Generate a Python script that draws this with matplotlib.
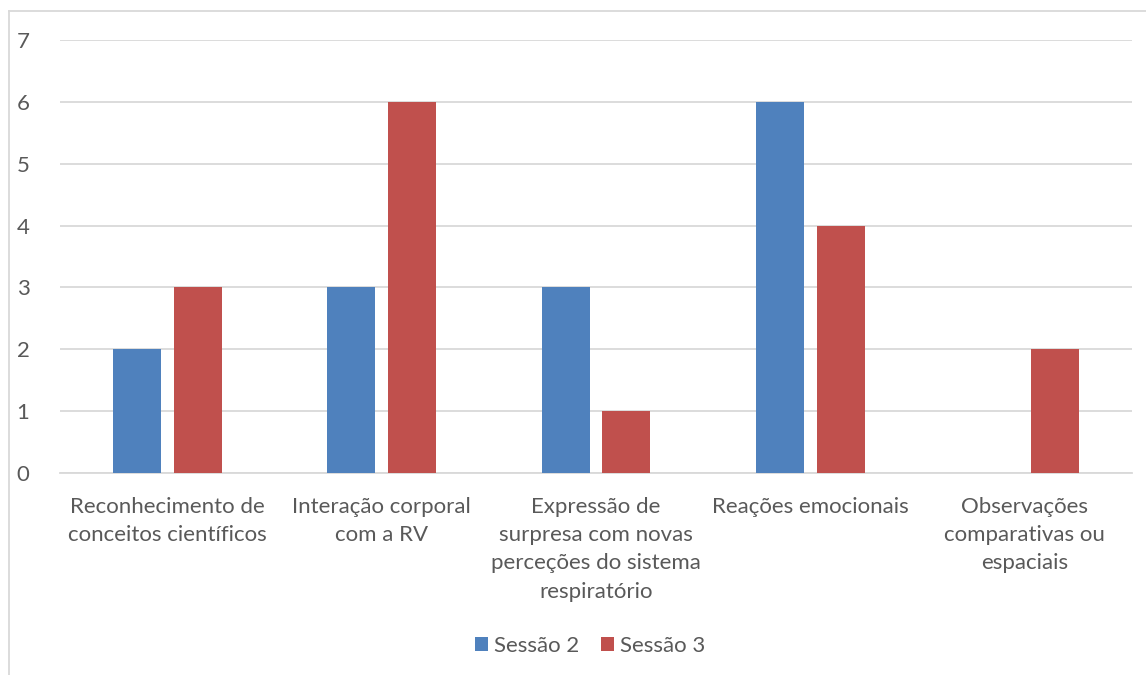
import matplotlib
matplotlib.use("Agg")
import matplotlib.pyplot as plt
import numpy as np
from matplotlib.lines import Line2D

categories = [
    "Reconhecimento de\nconceitos científicos",
    "Interação corporal\ncom a RV",
    "Expressão de\nsurpresa com novas\nperceções do sistema\nrespiratório",
    "Reações emocionais",
    "Observações\ncomparativas ou\nespaciais",
]
series_names = ["Sessão 2", "Sessão 3"]
sessao2 = [2, 3, 3, 6, 0]
sessao3 = [3, 6, 1, 4, 2]
y_ticks = [0, 1, 2, 3, 4, 5, 6, 7]

BLUE = "#4F81BD"
RED = "#C0504D"
TEXT = "#595959"
GRID = "#D9D9D9"
FS = 16

plt.rcParams["font.family"] = ["Lato", "DejaVu Sans"]

W, H = 1146, 675
fig = plt.figure(figsize=(W / 100, H / 100), dpi=100)
ax = fig.add_axes([60 / W, 1 - 473 / H, (1132 - 60) / W, (473 - 40) / H])

x = np.arange(len(categories))
bw = 0.224
gap = 0.06
off = (bw + gap) / 2
ax.bar(x - off, sessao2, width=bw, color=BLUE, label=series_names[0], zorder=3)
ax.bar(x + off, sessao3, width=bw, color=RED, label=series_names[1], zorder=3)

ax.set_xlim(-0.5, len(categories) - 0.5)
ax.set_ylim(0, 7)
ax.set_yticks(y_ticks)
ax.set_yticklabels([str(v) for v in y_ticks])
ax.yaxis.grid(True, color=GRID, linewidth=1.3, zorder=0)
ax.set_axisbelow(True)
for s in ["top", "right", "left"]:
    ax.spines[s].set_visible(False)
ax.spines["bottom"].set_color(GRID)
ax.spines["bottom"].set_linewidth(1.3)

ax.set_xticks(x)
ax.set_xticklabels(categories, fontsize=FS, color=TEXT, linespacing=1.52, va="top")
ax.tick_params(axis="x", length=0, pad=17)
ax.tick_params(axis="y", length=0, pad=22, labelsize=FS, labelcolor=TEXT)

leg = fig.legend(
    loc="center",
    bbox_to_anchor=(590 / W, 1 - 646 / H),
    ncol=2,
    frameon=False,
    fontsize=FS,
    handlelength=0.6,
    handleheight=0.6,
    handletextpad=0.25,
    columnspacing=1.0,
)
for t in leg.get_texts():
    t.set_color(TEXT)

# chart-area border (left and top edges visible)
fig.add_artist(Line2D([8.5 / W, 8.5 / W], [0, 1 - 11 / H], transform=fig.transFigure, color=GRID, linewidth=1.3))
fig.add_artist(Line2D([8.5 / W, 1], [1 - 11 / H, 1 - 11 / H], transform=fig.transFigure, color=GRID, linewidth=1.3))

fig.savefig("out.png", dpi=100, facecolor="white")
